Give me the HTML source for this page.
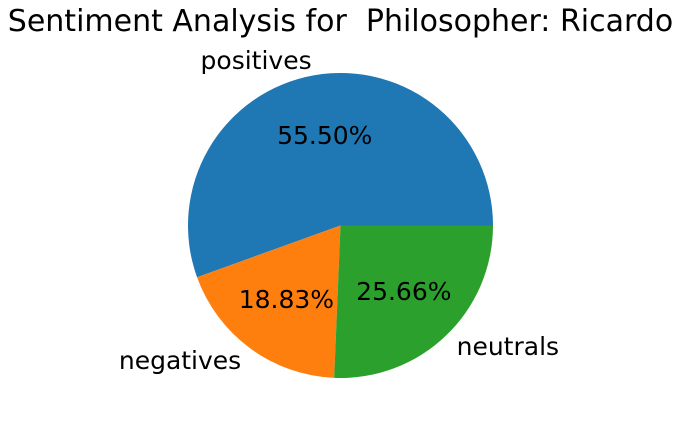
<!DOCTYPE html>
<html>
<head>
<meta charset="utf-8">
<style>
html,body{margin:0;padding:0;background:#fff;}
svg{display:block;}
text{font-family:"DejaVu Sans","Liberation Sans",sans-serif;fill:#000;white-space:pre;}
</style>
</head>
<body>
<svg id="chart" width="681" height="423" viewBox="0 0 681 423">
<text x="340.5" y="31" font-size="30" text-anchor="middle" xml:space="preserve">Sentiment Analysis for  Philosopher: Ricardo</text>
</svg>
<script>
const categories = ["positives", "negatives", "neutrals"];
const values = [55.50, 18.83, 25.66];
const colors = ["#1f77b4", "#ff7f0e", "#2ca02c"];

const svg = document.getElementById('chart');
const NS = 'http://www.w3.org/2000/svg';
const cx = 340.5, cy = 225.5, r = 152.5;
const total = values.reduce((a, b) => a + b, 0);
function pt(deg, rad) {
  const a = deg * Math.PI / 180;
  return [cx + rad * Math.cos(a), cy - rad * Math.sin(a)];
}
let start = 0;
values.forEach((v, i) => {
  const sweep = v / total * 360;
  const end = start + sweep;
  const p1 = pt(start, r), p2 = pt(end, r);
  const large = sweep > 180 ? 1 : 0;
  const path = document.createElementNS(NS, 'path');
  path.setAttribute('d', `M${cx},${cy} L${p1[0]},${p1[1]} A${r},${r} 0 ${large} 0 ${p2[0]},${p2[1]} Z`);
  path.setAttribute('fill', colors[i]);
  
  
  svg.appendChild(path);

  const mid = start + sweep / 2;
  const lp = pt(mid, r * 1.1);
  const lbl = document.createElementNS(NS, 'text');
  lbl.setAttribute('x', lp[0]);
  lbl.setAttribute('y', lp[1]);
  lbl.setAttribute('font-size', '25');
  lbl.setAttribute('dominant-baseline', 'central');
  lbl.setAttribute('text-anchor', Math.cos(mid * Math.PI / 180) < 0 ? 'end' : 'start');
  lbl.textContent = categories[i];
  
  
  svg.appendChild(lbl);

  const pp = pt(mid, r * 0.6);
  const pct = document.createElementNS(NS, 'text');
  pct.setAttribute('x', pp[0]);
  pct.setAttribute('y', pp[1]);
  pct.setAttribute('font-size', '25');
  pct.setAttribute('dominant-baseline', 'central');
  pct.setAttribute('text-anchor', 'middle');
  pct.textContent = v.toFixed(2) + '%';
  
  
  svg.appendChild(pct);

  start = end;
});
</script>
</body>
</html>
